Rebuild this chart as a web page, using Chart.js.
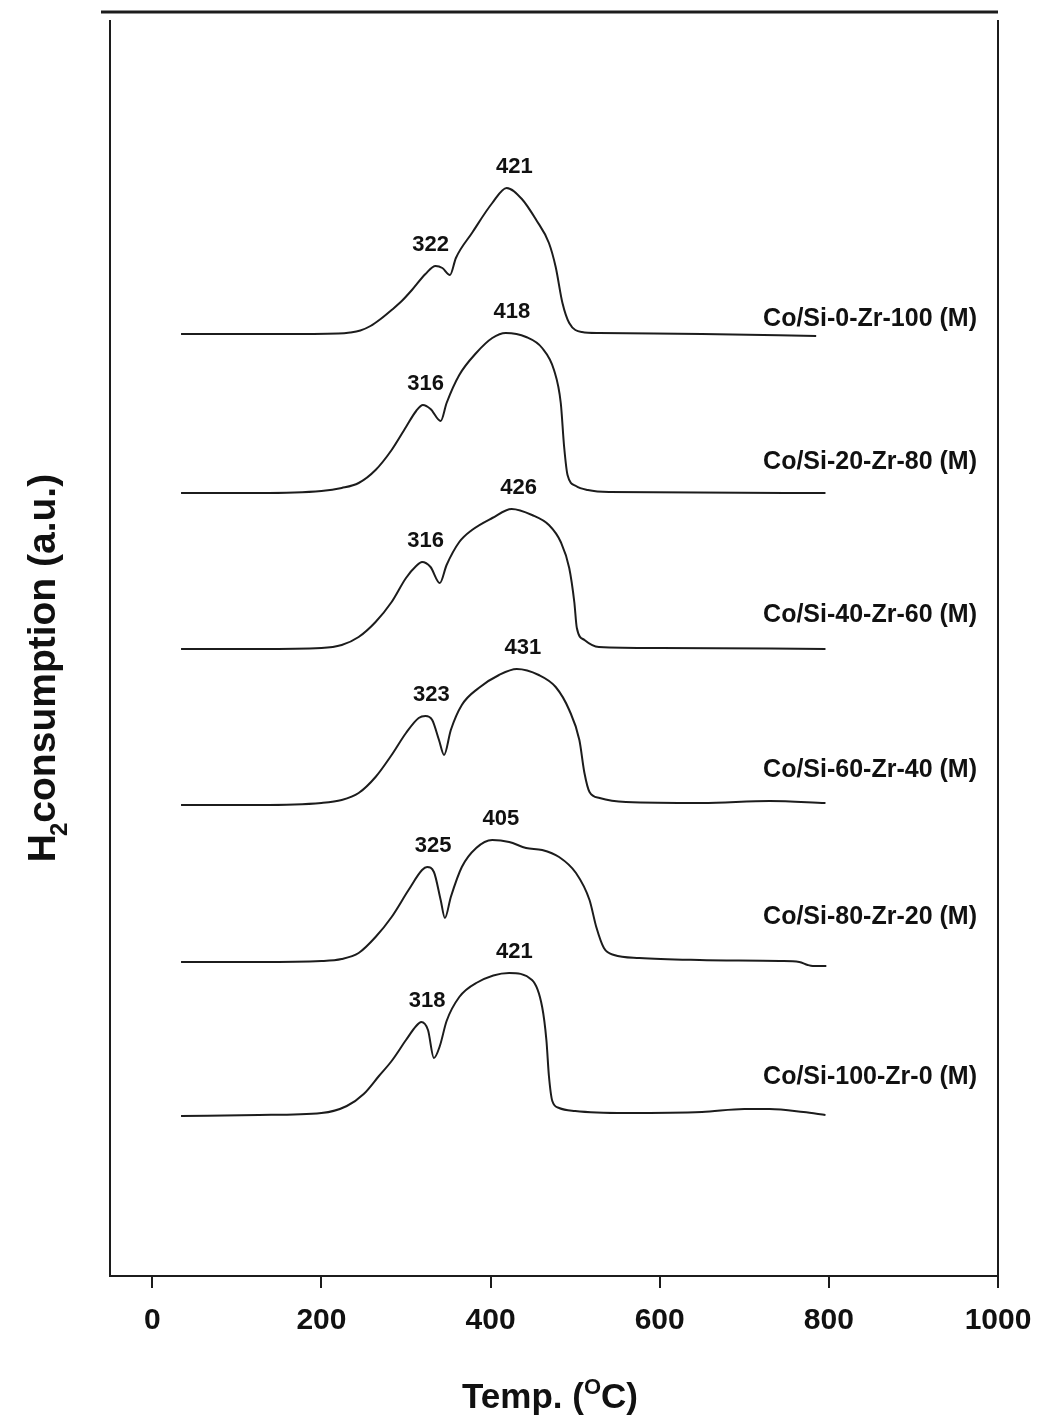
<!DOCTYPE html>
<html>
<head>
<meta charset="utf-8">
<script src="https://cdn.jsdelivr.net/npm/chart.js@4.4.0/dist/chart.umd.min.js"></script>
<style>
  html, body { margin: 0; padding: 0; background: #fff; }
  #wrap { position: relative; width: 1039px; height: 1421px; }
</style>
</head>
<body>
<div id="wrap"><canvas id="tprChart" width="1039" height="1421"></canvas></div>
<script>
// TPR profiles (temperature in oC, signal in a.u. above each trace's baseline)

const seriesNames = ['Co/Si-0-Zr-100 (M)', 'Co/Si-20-Zr-80 (M)', 'Co/Si-40-Zr-60 (M)',
                     'Co/Si-60-Zr-40 (M)', 'Co/Si-80-Zr-20 (M)', 'Co/Si-100-Zr-0 (M)']

// vertical stacking of the traces (a.u.)
const baselines = [942, 783, 627, 471, 314, 160]

const temp_Si0 = [34, 150, 220, 234, 246, 258, 270, 283, 295, 307, 323, 335, 343, 352, 359, 378, 402, 419, 437, 454, 469, 477, 485, 493, 508, 528, 650, 785]
const sig_Si0  = [0, 0, 0.5, 1.5, 3.5, 8, 15, 24, 33, 44, 60, 68, 66, 59, 76, 101, 131, 146, 135, 114, 91, 67, 31, 11, 2, 1, 0, -2]

const temp_Si20 = [34, 126, 200, 224, 244, 264, 283, 300, 312, 320, 329, 341, 348, 363, 383, 402, 418, 442, 461, 475, 483, 487, 491, 501, 515, 540, 796]
const sig_Si20  = [0, 0, 2, 5, 10, 23, 43, 66, 82, 88, 84, 72, 90, 118, 140, 155, 160, 156, 145, 123, 90, 46, 18, 7, 3, 1, 0]

const temp_Si40 = [34, 126, 200, 224, 244, 264, 283, 300, 312, 319, 329, 340, 348, 363, 378, 402, 425, 449, 469, 483, 493, 499, 502, 511, 528, 600, 796]
const sig_Si40  = [0, 0, 1, 4, 12, 27, 47, 71, 83, 87, 82, 66, 84, 107, 119, 131, 140, 134, 124, 107, 81, 47, 21, 9, 2, 1, 0]

const temp_Si60 = [34, 126, 200, 224, 244, 264, 283, 300, 315, 323, 331, 339, 345, 353, 366, 386, 410, 431, 457, 477, 493, 505, 511, 517, 529, 560, 650, 730, 796]
const sig_Si60  = [0, 0, 2, 5, 12, 28, 50, 72, 87, 89, 85, 65, 50, 75, 100, 117, 130, 136, 130, 118, 95, 65, 32, 13, 7, 3, 2, 4, 2]

const temp_Si80 = [34, 126, 200, 224, 244, 264, 283, 303, 319, 325, 333, 341, 346, 353, 366, 383, 402, 422, 442, 461, 481, 501, 517, 525, 534, 546, 576, 647, 742, 765, 775, 781, 797]
const sig_Si80  = [0, 0, 1, 3, 9, 25, 45, 72, 92, 95, 90, 62, 44, 65, 95, 114, 122, 120, 114, 112, 105, 89, 62, 35, 14, 7, 4, 2, 1, 0, -3, -4, -4]

const temp_Si100 = [34, 126, 200, 230, 250, 268, 283, 300, 312, 318, 326, 333, 340, 348, 363, 383, 422, 449, 461, 466, 469, 473, 481, 500, 560, 650, 700, 730, 770, 796]
const sig_Si100  = [0, 1, 3, 10, 22, 40, 55, 76, 90, 94, 86, 58, 70, 95, 119, 133, 143, 136, 109, 76, 40, 15, 8, 5, 3, 4, 7, 7, 4, 1]

const seriesTemps = [temp_Si0, temp_Si20, temp_Si40, temp_Si60, temp_Si80, temp_Si100]
const seriesSigs = [sig_Si0, sig_Si20, sig_Si40, sig_Si60, sig_Si80, sig_Si100]

// peak maxima written on each trace
const peakLabels = [[322, 421], [316, 418], [316, 426], [323, 431], [325, 405], [318, 421]]

const xTicks = [0, 200, 400, 600, 800, 1000]

// ---- layout / style (not data) ----
const FONT = "'Liberation Sans', Arial, Helvetica, sans-serif"
const INK = '#1c1c1c'
const nameLift = [15, 31, 34, 35, 45, 39]   // px the trace names sit above their baselines

const datasets = seriesNames.map((name, k) => ({
    label: name,
    data: seriesTemps[k].map((t, i) => ({ x: t, y: baselines[k] + seriesSigs[k][i] })),
    borderColor: INK,
    borderWidth: 2,
    pointRadius: 0,
    fill: false,
    showLine: true,
    cubicInterpolationMode: 'monotone'
}))

const frameAndText = {
    id: 'frameAndText',
    afterDraw(chart) {
        const { ctx, chartArea: a } = chart
        const xs = chart.scales.x
        const ys = chart.scales.y
        ctx.save()
        ctx.strokeStyle = INK
        ctx.lineCap = 'butt'

        // frame: heavy top rule, left and right sides
        ctx.lineWidth = 3
        ctx.beginPath(); ctx.moveTo(a.left - 9, a.top); ctx.lineTo(a.right, a.top); ctx.stroke()
        ctx.lineWidth = 2
        ctx.beginPath(); ctx.moveTo(a.left, a.top + 8); ctx.lineTo(a.left, a.bottom); ctx.stroke()
        ctx.beginPath(); ctx.moveTo(a.right, a.top + 8); ctx.lineTo(a.right, a.bottom); ctx.stroke()

        ctx.fillStyle = '#111'

        // peak temperatures above the maxima
        ctx.font = 'bold 22px ' + FONT
        ctx.textAlign = 'center'
        ctx.textBaseline = 'middle'
        peakLabels.forEach((labs, k) => {
            labs.forEach(lab => {
                let best = -Infinity
                seriesTemps[k].forEach((t, i) => {
                    if (Math.abs(t - lab) <= 20) best = Math.max(best, seriesSigs[k][i])
                })
                const px = xs.getPixelForValue(lab) + 6
                const py = ys.getPixelForValue(baselines[k] + best) - 21
                ctx.fillText(String(lab), px, py)
            })
        })

        // sample names at the right end of each trace
        ctx.font = 'bold 25px ' + FONT
        ctx.textAlign = 'right'
        seriesNames.forEach((name, k) => {
            ctx.fillText(name, a.right - 21, ys.getPixelForValue(baselines[k]) - nameLift[k])
        })

        // x title: Temp. (oC) with raised O
        const big = 'bold 35px ' + FONT
        const small = 'bold 22px ' + FONT
        const parts = [['Temp. (', big, 0], ['O', small, -14], ['C)', big, 0]]
        let total = 0
        parts.forEach(p => { ctx.font = p[1]; total += ctx.measureText(p[0]).width })
        let cx = (a.left + a.right) / 2 - 4 - total / 2
        const ty = 1408
        ctx.textAlign = 'left'
        ctx.textBaseline = 'alphabetic'
        parts.forEach(p => {
            ctx.font = p[1]
            ctx.fillText(p[0], cx, ty + p[2])
            cx += ctx.measureText(p[0]).width
        })

        // y title: H2 consumption (a.u.) with lowered 2
        const ybig = 'bold 39px ' + FONT
        const ysmall = 'bold 24px ' + FONT
        ctx.translate(55, 666)
        ctx.rotate(-Math.PI / 2)
        const yparts = [['H', ybig, 0, 0], ['2', ysmall, 12, -2], ['consumption (a.u.)', ybig, 0, 4]]
        let ytotal = 0
        yparts.forEach(p => { ctx.font = p[1]; ytotal += ctx.measureText(p[0]).width + p[3] })
        let yx = -ytotal / 2
        yparts.forEach(p => {
            ctx.font = p[1]
            yx += (p[3] < 0 ? p[3] : 0)
            ctx.fillText(p[0], yx, p[2])
            yx += ctx.measureText(p[0]).width + (p[3] > 0 ? p[3] : 0)
        })
        ctx.restore()
    }
}

const chart = new Chart(document.getElementById('tprChart'), {
    type: 'scatter',
    data: { datasets: datasets },
    options: {
        responsive: false,
        animation: false,
        devicePixelRatio: 1,
        layout: { padding: { left: 110, right: 41, top: 12, bottom: 0 } },
        plugins: { legend: { display: false }, tooltip: { enabled: false } },
        scales: {
            x: {
                type: 'linear',
                min: -50,
                max: 1000,
                afterBuildTicks: s => { s.ticks = xTicks.map(v => ({ value: v })) },
                afterFit: s => { s.height = 145; s.paddingLeft = 0; s.paddingRight = 0 },
                border: { display: true, color: INK, width: 2 },
                grid: { display: true, drawOnChartArea: false, drawTicks: true, tickLength: 12, color: INK, lineWidth: 2 },
                ticks: {
                    color: '#111', font: { family: FONT, size: 30, weight: 'bold' }, padding: 15,
                    maxRotation: 0, autoSkip: false,
                    callback: v => String(v)
                }
            },
            y: { display: false, min: 0, max: 1264 }
        }
    },
    plugins: [frameAndText]
})
</script>
</body>
</html>
